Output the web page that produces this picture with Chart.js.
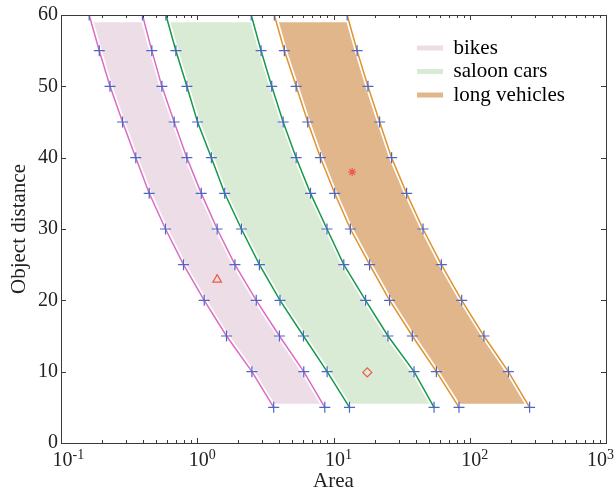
<!DOCTYPE html>
<html>
<head>
<meta charset="utf-8">
<script src="https://cdn.jsdelivr.net/npm/chart.js@4.4.1/dist/chart.umd.min.js"></script>
<style>
  html, body { margin: 0; padding: 0; background: #fff; }
  #wrap { width: 616px; height: 494px; }
</style>
</head>
<body>
<div id="wrap"><canvas id="chart"></canvas></div>
<script>
// object distances where each edge curve was sampled
const distances = [5, 10, 15, 20, 25, 30, 35, 40, 45, 50, 55, 60];

// area values along the left / right edge of each band
const bikesLow = [3.64, 2.52, 1.64, 1.125, 0.793, 0.585, 0.444, 0.354, 0.283, 0.229, 0.191, 0.161];
const bikesHigh = [8.63, 6.05, 4.01, 2.71, 1.89, 1.40, 1.07, 0.839, 0.677, 0.55, 0.464, 0.396];
const saloonLow = [13.1, 8.98, 6.02, 4.05, 2.86, 2.11, 1.59, 1.27, 1.005, 0.839, 0.697, 0.589];
const saloonHigh = [54.7, 39.0, 25.1, 17.2, 11.9, 8.96, 6.78, 5.32, 4.27, 3.52, 2.94, 2.49];
const longLow = [83.4, 56.9, 37.9, 25.8, 18.4, 13.3, 10.2, 8.02, 6.47, 5.32, 4.36, 3.68];
const longHigh = [275, 192, 127, 87.3, 61.9, 45.4, 34.4, 26.7, 21.8, 17.9, 14.9, 12.6];

const bandNames = ['bikes', 'saloon cars', 'long vehicles'];

// the three single test objects (triangle, star, diamond)
const objArea = [1.40, 13.7, 17.7];
const objDistance = [22.9, 38.0, 9.9];

const xTickValues = [0.1, 1, 10, 100, 1000];
const xTickBase = '10';
const xTickExps = ['-1', '0', '1', '2', '3'];

const lineColors = ['#dc6cc2', '#16994a', '#e2922e'];
const fillColors = ['#ecdde6', '#d9eAd5', '#e0b68a'];
const crossColor = '#4a66c8';
const objColor = '#ee5a48';
const textColor = '#222222';
const serif = "'Liberation Serif', 'Times New Roman', serif";

const pts = arr => arr.map((v, i) => ({ x: v, y: distances[i] }));
const edges = [bikesLow, bikesHigh, saloonLow, saloonHigh, longLow, longHigh];

const datasets = [];
// coloured edges with crosses, low edge fills over to high edge
edges.forEach((arr, i) => {
    const b = Math.floor(i / 2);
    datasets.push({
        label: bandNames[b],
        data: pts(arr),
        borderColor: lineColors[b],
        borderWidth: 1.5,
        backgroundColor: fillColors[b],
        fill: i % 2 === 0 ? i + 1 : false,
        pointStyle: 'cross',
        pointRadius: 5.5,
        pointBorderColor: crossColor,
        pointBorderWidth: 1.2,
        tension: 0,
        order: 1
    });
});
// white halo under each edge (gap between line and fill)
edges.forEach((arr) => {
    datasets.push({
        data: pts(arr),
        borderColor: '#ffffff',
        borderWidth: 5,
        pointRadius: 0,
        fill: false,
        order: 2
    });
});
// test objects
datasets.push({
    data: objArea.map((v, i) => ({ x: v, y: objDistance[i] })),
    showLine: false,
    pointStyle: ['triangle', 'star', 'rectRot'],
    pointRadius: [5, 4, 4.5],
    pointBorderColor: objColor,
    pointBackgroundColor: 'rgba(255,255,255,0)',
    pointBorderWidth: 1.2,
    fill: false,
    order: 0
});

// fills stop a bit short of the end rows, inward ticks, closed frame, 10^n labels
const framePlugin = {
    id: 'frame',
    beforeDraw(chart) {
        const { ctx, chartArea: a, scales: { y } } = chart;
        ctx.save();
        ctx.beginPath();
        ctx.rect(0, 0, chart.width, chart.height);
        const t0 = y.getPixelForValue(60), t1 = y.getPixelForValue(59);
        ctx.rect(a.left + 1, t0 - 1, a.right - a.left - 2, t1 - t0 + 1);
        const b0 = y.getPixelForValue(5.5), b1 = y.getPixelForValue(4.8);
        ctx.rect(a.left + 1, b0, a.right - a.left - 2, b1 - b0);
        ctx.clip('evenodd');
    },
    beforeDatasetsDraw(chart) {
        chart.ctx.restore();
    },
    afterDatasetsDraw(chart) {
        const { ctx, chartArea: a, scales: { x, y } } = chart;
        ctx.save();
        ctx.strokeStyle = '#3a3a3a';
        ctx.lineWidth = 1;
        ctx.beginPath();
        ctx.moveTo(a.left, a.top + 0.5);
        ctx.lineTo(a.right + 0.5, a.top + 0.5);
        ctx.lineTo(a.right + 0.5, a.bottom);
        // x ticks, major and minor, bottom and top
        for (let d = 0.1; d < 1000; d *= 10) {
            for (let m = 1; m <= 10; m++) {
                const px = Math.round(x.getPixelForValue(d * m)) + 0.5;
                const len = (m === 1 || m === 10) ? 5 : 3;
                ctx.moveTo(px, a.bottom);
                ctx.lineTo(px, a.bottom - len);
                ctx.moveTo(px, a.top);
                ctx.lineTo(px, a.top + len);
            }
        }
        for (let v = 10; v < 60; v += 10) {
            const py = Math.round(y.getPixelForValue(v)) + 0.5;
            ctx.moveTo(a.left, py);
            ctx.lineTo(a.left + 5, py);
            ctx.moveTo(a.right, py);
            ctx.lineTo(a.right - 5, py);
        }
        ctx.stroke();

        // decade labels with raised exponent
        ctx.fillStyle = textColor;
        ctx.textBaseline = 'alphabetic';
        ctx.textAlign = 'left';
        const base = a.bottom + 23;
        xTickValues.forEach((v, i) => {
            const px = x.getPixelForValue(v);
            ctx.font = '20px ' + serif;
            const wb = ctx.measureText(xTickBase).width;
            ctx.font = '14px ' + serif;
            const we = ctx.measureText(xTickExps[i]).width;
            let left = px + 1.5 - wb / 2;
            if (left + wb + we > chart.width - 2) left = chart.width - 2 - wb - we;
            ctx.font = '20px ' + serif;
            ctx.fillText(xTickBase, left, base);
            ctx.font = '14px ' + serif;
            ctx.fillText(xTickExps[i], left + wb, base - 7);
        });
        ctx.restore();
    },
    afterLayout(chart) {
        // legend sits in the upper right corner of the plot
        chart.legend.left = 414.5;
        chart.legend.top = 35;
    }
};

new Chart(document.getElementById('chart'), {
    type: 'line',
    data: { datasets: datasets },
    options: {
        indexAxis: 'y',
        animation: false,
        responsive: true,
        maintainAspectRatio: false,
        layout: { padding: { top: 15, right: 10, left: 0, bottom: 0 } },
        plugins: {
            filler: { drawTime: 'beforeDatasetsDraw' },
            tooltip: { enabled: false },
            legend: {
                position: 'chartArea',
                align: 'start',
                labels: {
                    font: { family: serif, size: 21 },
                    color: textColor,
                    boxWidth: 26,
                    boxHeight: 5,
                    padding: 2.5,
                    generateLabels: () => bandNames.map((n, i) => ({
                        text: n,
                        fillStyle: fillColors[i],
                        strokeStyle: fillColors[i],
                        lineWidth: 0,
                        hidden: false,
                        datasetIndex: i * 2
                    }))
                }
            }
        },
        scales: {
            x: {
                type: 'logarithmic',
                position: 'bottom',
                min: 0.1,
                max: 1000,
                grid: { display: false, drawTicks: false },
                border: { color: '#3a3a3a', width: 1 },
                afterBuildTicks: s => { s.ticks = xTickValues.map(v => ({ value: v })); },
                afterFit: s => { s.height = 51; s.paddingLeft = 0; s.paddingRight = 0; },
                ticks: {
                    autoSkip: false,
                    maxRotation: 0,
                    padding: 10,
                    color: 'rgba(0,0,0,0)',
                    font: { family: serif, size: 19 },
                    callback: (v) => {
                        const k = xTickValues.indexOf(v);
                        return k < 0 ? '' : xTickBase + '^' + xTickExps[k];
                    }
                },
                title: {
                    display: true,
                    text: 'Area',
                    color: textColor,
                    font: { family: serif, size: 21 },
                    padding: { top: 0, bottom: 0 }
                }
            },
            y: {
                type: 'linear',
                position: 'left',
                min: 0,
                max: 60,
                grid: { display: false, drawTicks: false },
                border: { color: '#3a3a3a', width: 1 },
                afterFit: s => { s.width = 61; },
                ticks: {
                    stepSize: 10,
                    padding: 3,
                    color: textColor,
                    font: { family: serif, size: 20 }
                },
                title: {
                    display: true,
                    text: 'Object distance',
                    color: textColor,
                    font: { family: serif, size: 21 },
                    padding: { top: 7, bottom: 0 }
                }
            }
        }
    },
    plugins: [framePlugin]
});
</script>
</body>
</html>
